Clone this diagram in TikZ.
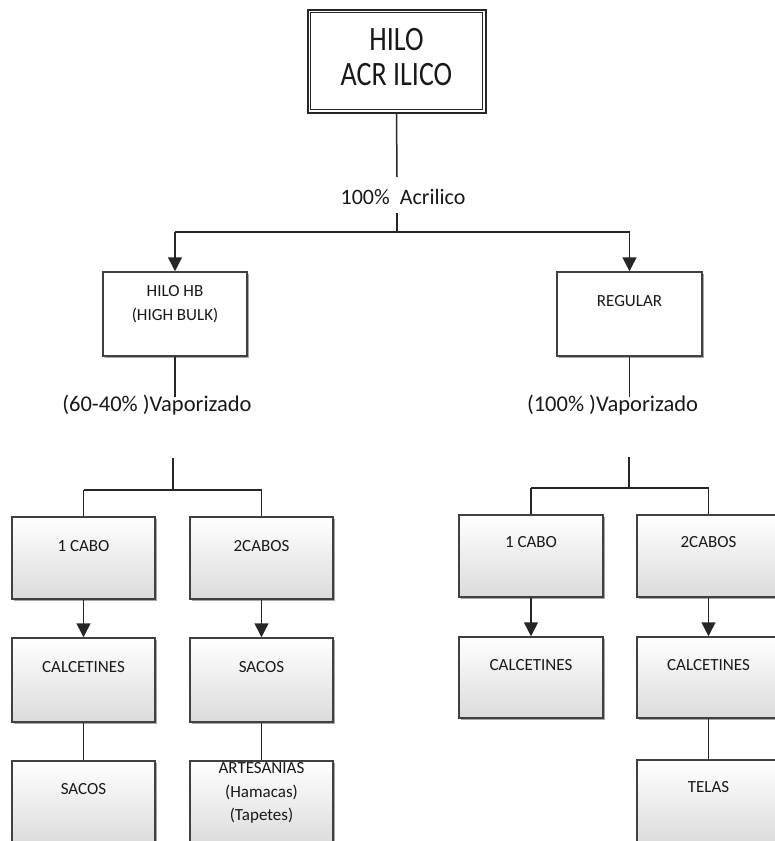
\documentclass[tikz,border=0pt]{standalone}
\usepackage{fontspec}
\setmainfont{Carlito}
\usetikzlibrary{arrows.meta,shadows}
\tikzset{
  card/.style={draw=black!75, line width=1.5pt, inner sep=0pt, minimum width=143pt,
    drop shadow={shadow xshift=1.6pt, shadow yshift=-1.6pt, fill=black!50, opacity=0.7}},
  plaincard/.style={card, fill=white, minimum height=84pt},
  gradcard/.style={card, top color=white, bottom color=black!14, minimum height=82pt},
  boxtext/.style={font=\fontsize{17}{23.5}\selectfont, align=center, inner sep=0pt, text=black!90},
  note/.style={font=\fontsize{22.5}{26}\selectfont, inner sep=0pt, text=black!90},
  link/.style={draw=black!85, line width=1.5pt},
  flow/.style={link, -{Triangle[width=14pt,length=14pt]}},
}
\begin{document}
\begin{tikzpicture}[x=1pt,y=-1pt]
\useasboundingbox (0,0) rectangle (775,841);
\clip (0,0) rectangle (775,841);

% root, title set narrow and tall
\node[draw=black!85, line width=2pt, minimum width=178pt, minimum height=103pt,
      inner sep=0pt, font=\fontsize{28}{29}\selectfont, text=black!90]
      (root) at (396.5,61)
      {\scalebox{1}[1.22]{\begin{tabular}{@{}c@{}}HILO\\ACR ILICO\end{tabular}}};
\draw[black!85, line width=0.9pt] ([shift={(4pt,-4pt)}]root.north west)
      rectangle ([shift={(-4pt,4pt)}]root.south east);

\node[note, font=\fontsize{22}{26}\selectfont] (pct) at (403,197) {100\%\ \ Acrilico};
\coordinate (pctin) at (397,177);
\coordinate (pctout) at (397,213);
\coordinate (split) at (397,232);
\coordinate (sl) at (175,232);
\coordinate (sr) at (629.5,232);

% second level
\node[plaincard, minimum width=144pt] (hb) at (175,314) {};
\node[boxtext, font=\fontsize{17}{24}\selectfont] (hbt) at (175,304) {HILO HB\\(HIGH BULK)};
\node[plaincard, minimum width=145pt] (reg) at (629.5,314) {};
\node[boxtext] (regt) at ([yshift=-30pt]reg.north) {REGULAR};

\node[note] (vap1) at (157,405) {(60-40\% )Vaporizado};
\node[note] (vap2) at (612.5,405) {(100\% )Vaporizado};

% left branch
\coordinate (hbend) at (175,397);
\coordinate (ljtop) at (173,458);
\coordinate (lj) at (173,490);
\coordinate (lleft) at (83.5,490);
\coordinate (lright) at (261.5,490);

\node[gradcard] (b1) at (83.5,558) {};
\node[boxtext] (b1t) at ([yshift=-30pt]b1.north) {1 CABO};
\node[gradcard] (b2) at (261.5,558) {};
\node[boxtext] (b2t) at ([yshift=-30pt]b2.north) {2CABOS};
\node[gradcard, minimum height=84pt] (b3) at (83.5,680) {};
\node[boxtext] (b3t) at ([yshift=-30pt]b3.north) {CALCETINES};
\node[gradcard, minimum height=84pt] (b4) at (261.5,680) {};
\node[boxtext] (b4t) at ([yshift=-30pt]b4.north) {SACOS};
\node[gradcard, minimum height=84pt] (b5) at (83.5,803) {};
\node[boxtext] (b5t) at ([yshift=-29pt]b5.north) {SACOS};
\node[gradcard, minimum height=84pt] (b6) at (261.5,803) {};
\node[boxtext] (b6t) at (261.5,793) {ARTESANIAS\\(Hamacas)\\(Tapetes)};

% right branch
\coordinate (regend) at (629.5,397);
\coordinate (rjtop) at (629,457);
\coordinate (rj) at (629,488);
\coordinate (rleft) at (531,488);
\coordinate (rright) at (708.5,488);

\node[gradcard, minimum width=144pt] (r1) at (531,556) {};
\node[boxtext] (r1t) at ([yshift=-28pt]r1.north) {1 CABO};
\node[gradcard] (r2) at (708.5,556) {};
\node[boxtext] (r2t) at ([yshift=-28pt]r2.north) {2CABOS};
\node[gradcard, minimum width=144pt, minimum height=81pt] (r3) at (531,677.5) {};
\node[boxtext] (r3t) at ([yshift=-29pt]r3.north) {CALCETINES};
\node[gradcard, minimum height=81pt] (r4) at (708.5,677.5) {};
\node[boxtext] (r4t) at ([yshift=-29pt]r4.north) {CALCETINES};
\node[gradcard, minimum height=84pt] (r5) at (708.5,802) {};
\node[boxtext] (r5t) at ([yshift=-28pt]r5.north) {TELAS};

% connectors
\draw[link] (root.south) -- (pctin);
\draw[link] (pctout) -- (split);
\draw[link] (sl) -- (sr);
\draw[flow] (sl) -- (hb.north);
\draw[flow] (sr) -- (reg.north);

\draw[link] (hb.south) -- (hbend);
\draw[link] (ljtop) -- (lj);
\draw[link] (lleft) -- (lright);
\draw[link] (lleft) -- (b1.north);
\draw[link] (lright) -- (b2.north);
\draw[flow] (b1.south) -- (b3.north);
\draw[flow] (b2.south) -- (b4.north);
\draw[link] (b3.south) -- (b5.north);
\draw[link] (b4.south) -- (b6.north);

\draw[link] (reg.south) -- (regend);
\draw[link] (rjtop) -- (rj);
\draw[link] (rleft) -- (rright);
\draw[link] (rleft) -- (r1.north);
\draw[link] (rright) -- (r2.north);
\draw[flow] (r1.south) -- (r3.north);
\draw[flow] (r2.south) -- (r4.north);
\draw[link] (r4.south) -- (r5.north);
\end{tikzpicture}
\end{document}
